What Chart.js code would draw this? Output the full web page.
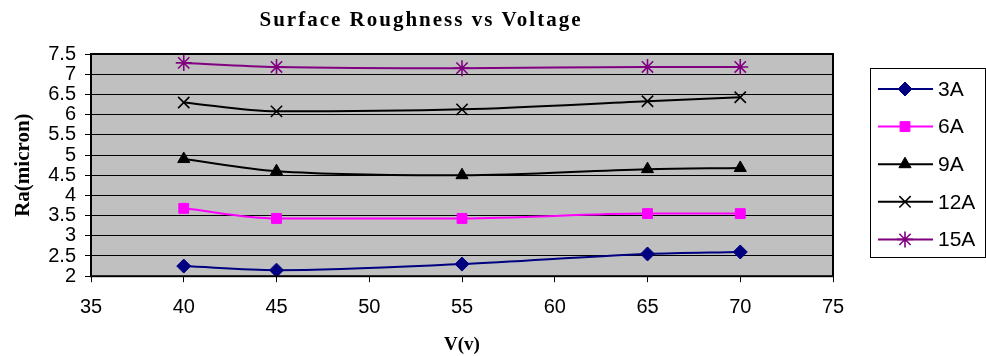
<!DOCTYPE html>
<html>
<head>
<meta charset="utf-8">
<script src="https://cdn.jsdelivr.net/npm/chart.js@4/dist/chart.umd.min.js"></script>
<style>
  html, body { margin: 0; padding: 0; background: #fff; }
  #wrap { width: 986px; height: 356px; position: relative; }
</style>
</head>
<body>
<div id="wrap"><canvas id="roughChart"></canvas></div>
<script>
// Voltage settings (V) and measured Ra for each current
var voltages = [40, 45, 55, 65, 70];
var ra3A  = [2.25, 2.15, 2.3, 2.55, 2.6];
var ra6A  = [3.68, 3.43, 3.43, 3.55, 3.55];
var ra9A  = [4.9, 4.6, 4.5, 4.65, 4.68];
var ra12A = [6.3, 6.08, 6.13, 6.33, 6.43];
var ra15A = [7.28, 7.18, 7.15, 7.18, 7.18];
var seriesNames = ['3A', '6A', '9A', '12A', '15A'];
var xTicks = [35, 40, 45, 50, 55, 60, 65, 70, 75];
var yTicks = [2, 2.5, 3, 3.5, 4, 4.5, 5, 5.5, 6, 6.5, 7, 7.5];
var chartTitle = 'Surface Roughness vs Voltage';

function toPoints(values) {
    return voltages.map(function (v, i) { return { x: v, y: values[i] }; });
}

function makeSeries(label, values, color, style, radius) {
    return {
        label: label,
        data: toPoints(values),
        borderColor: color,
        backgroundColor: color,
        borderWidth: 2,
        pointStyle: style,
        pointRadius: radius,
        pointBorderWidth: (style === 'crossRot' || style === 'star') ? 1.6 : 1,
        pointBorderColor: color,
        pointBackgroundColor: color,
        tension: 0.35,
        cubicInterpolationMode: 'monotone',
        fill: false
    };
}

var datasets = [
    makeSeries(seriesNames[0], ra3A, '#000080', 'rectRot', 7),
    makeSeries(seriesNames[1], ra6A, '#FF00FF', 'rect', 7),
    makeSeries(seriesNames[2], ra9A, '#000000', 'triangle', 7),
    makeSeries(seriesNames[3], ra12A, '#000000', 'crossRot', 8),
    makeSeries(seriesNames[4], ra15A, '#800080', 'star', 8)
];

// gray plot area with black frame, plus the spaced-out title
var plotFrame = {
    id: 'plotFrame',
    beforeDraw: function (chart) {
        var a = chart.chartArea, ctx = chart.ctx;
        ctx.save();
        ctx.fillStyle = '#C0C0C0';
        ctx.fillRect(a.left, a.top, a.right - a.left, a.bottom - a.top);
        ctx.restore();
    },
    afterDatasetsDraw: function (chart) {
        var a = chart.chartArea, ctx = chart.ctx;
        ctx.save();
        ctx.strokeStyle = '#000';
        ctx.lineWidth = 2;
        ctx.strokeRect(a.left, a.top, a.right - a.left, a.bottom - a.top);
        ctx.restore();
    },
    afterDraw: function (chart) {
        var ctx = chart.ctx;
        ctx.save();
        ctx.font = 'bold 21px "Liberation Serif", "Times New Roman", serif';
        ctx.letterSpacing = '2px';
        ctx.fillStyle = '#000';
        ctx.textAlign = 'center';
        ctx.textBaseline = 'middle';
        ctx.fillText(chartTitle, 421, 21);
        ctx.restore();
    }
};

// boxed legend on the right
var boxLegend = {
    id: 'boxLegend',
    afterDraw: function (chart) {
        var ctx = chart.ctx;
        var left = 870, top = 68, w = 115, h = 189;
        ctx.save();
        ctx.strokeStyle = '#000';
        ctx.lineWidth = 1;
        ctx.strokeRect(left + 0.5, top + 0.5, w, h);
        ctx.font = '21px "Liberation Sans", Arial, sans-serif';
        ctx.textBaseline = 'middle';
        ctx.textAlign = 'left';
        chart.data.datasets.forEach(function (ds, i) {
            var y = 89 + i * 37.6;
            ctx.strokeStyle = ds.borderColor;
            ctx.lineWidth = 2;
            ctx.beginPath();
            ctx.moveTo(878, y);
            ctx.lineTo(933, y);
            ctx.stroke();
            ctx.fillStyle = ds.backgroundColor;
            ctx.strokeStyle = ds.borderColor;
            ctx.lineWidth = ds.pointBorderWidth;
            Chart.helpers.drawPoint(ctx, {
                pointStyle: ds.pointStyle,
                radius: ds.pointRadius,
                rotation: 0,
                borderWidth: ds.pointBorderWidth
            }, 905, y);
            ctx.fillStyle = '#000';
            ctx.fillText(ds.label, 938, y + 1);
        });
        ctx.restore();
    }
};

var ctx = document.getElementById('roughChart').getContext('2d');
var roughChart = new Chart(ctx, {
    type: 'line',
    data: { datasets: datasets },
    plugins: [plotFrame, boxLegend],
    options: {
        responsive: true,
        maintainAspectRatio: false,
        animation: false,
        layout: { padding: { left: 0, right: 153, top: 54, bottom: 0 } },
        plugins: {
            legend: { display: false },
            tooltip: { enabled: false },
            title: { display: false }
        },
        scales: {
            x: {
                type: 'linear',
                min: 35,
                max: 75,
                afterBuildTicks: function (scale) {
                    scale.ticks = xTicks.map(function (v) { return { value: v }; });
                },
                grid: { drawOnChartArea: false, color: '#000', tickLength: 6, lineWidth: 1 },
                border: { display: false },
                ticks: {
                    color: '#000',
                    padding: 13,
                    maxRotation: 0,
                    autoSkip: false,
                    callback: function (v) { return String(v); },
                    font: { family: '"Liberation Sans", Arial, sans-serif', size: 20 }
                },
                title: {
                    display: true,
                    text: 'V(v)',
                    color: '#000',
                    font: { family: '"Liberation Serif", "Times New Roman", serif', size: 19, weight: 'bold' },
                    padding: { top: 1, bottom: 0 }
                }
            },
            y: {
                min: 2,
                max: 7.5,
                afterBuildTicks: function (scale) {
                    scale.ticks = yTicks.map(function (v) { return { value: v }; });
                },
                afterFit: function (scale) { scale.width = 91; },
                grid: { color: '#000', lineWidth: 1, tickLength: 6 },
                border: { display: false },
                ticks: {
                    color: '#000',
                    padding: 9,
                    autoSkip: false,
                    callback: function (v) { return String(v); },
                    font: { family: '"Liberation Sans", Arial, sans-serif', size: 20 }
                },
                title: {
                    display: true,
                    text: 'Ra(micron)',
                    color: '#000',
                    font: { family: '"Liberation Serif", "Times New Roman", serif', size: 21, weight: 'bold' },
                    padding: { top: 11, bottom: 0 }
                }
            }
        }
    }
});
</script>
</body>
</html>
